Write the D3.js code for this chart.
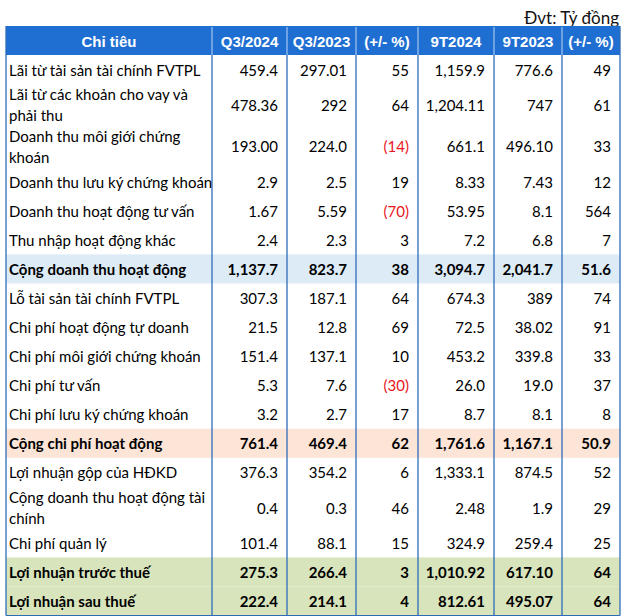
<!DOCTYPE html>
<html>
<head>
<meta charset="utf-8">
<script src="https://cdn.jsdelivr.net/npm/d3@7"></script>
<style>
  html, body { margin: 0; padding: 0; background: #fff; }
  svg { display: block; }
</style>
</head>
<body>
<svg id="chart" width="629" height="616"></svg>
<script>
// ---------- data ----------
const unitNote = "Đvt: Tỷ đồng";
const columns = ["Chỉ tiêu", "Q3/2024", "Q3/2023", "(+/- %)", "9T2024", "9T2023", "(+/- %)"];
const labels = [
  "Lãi từ tài sản tài chính FVTPL",
  "Lãi từ các khoản cho vay và\nphải thu",
  "Doanh thu môi giới chứng\nkhoán",
  "Doanh thu lưu ký chứng khoán",
  "Doanh thu hoạt động tư vấn",
  "Thu nhập hoạt động khác",
  "Cộng doanh thu hoạt động",
  "Lỗ tài sản tài chính FVTPL",
  "Chi phí hoạt động tự doanh",
  "Chi phí môi giới chứng khoán",
  "Chi phí tư vấn",
  "Chi phí lưu ký chứng khoán",
  "Cộng chi phí hoạt động",
  "Lợi nhuận gộp của HĐKD",
  "Cộng doanh thu hoạt động tài\nchính",
  "Chi phí quản lý",
  "Lợi nhuận trước thuế",
  "Lợi nhuận sau thuế"
];
const q3_2024 = ["459.4","478.36","193.00","2.9","1.67","2.4","1,137.7","307.3","21.5","151.4","5.3","3.2","761.4","376.3","0.4","101.4","275.3","222.4"];
const q3_2023 = ["297.01","292","224.0","2.5","5.59","2.3","823.7","187.1","12.8","137.1","7.6","2.7","469.4","354.2","0.3","88.1","266.4","214.1"];
const q3_chg  = ["55","64","(14)","19","(70)","3","38","64","69","10","(30)","17","62","6","46","15","3","4"];
const t9_2024 = ["1,159.9","1,204.11","661.1","8.33","53.95","7.2","3,094.7","674.3","72.5","453.2","26.0","8.7","1,761.6","1,333.1","2.48","324.9","1,010.92","812.61"];
const t9_2023 = ["776.6","747","496.10","7.43","8.1","6.8","2,041.7","389","38.02","339.8","19.0","8.1","1,167.1","874.5","1.9","259.4","617.10","495.07"];
const t9_chg  = ["49","61","33","12","564","7","51.6","74","91","33","37","8","50.9","52","29","25","64","64"];
const rowKind = ["","","","","","","blue","","","","","","peach","","","","green","green"];

// ---------- layout ----------
const svg = d3.select("#chart");
const edges = [6, 212, 287, 356, 418, 494, 562, 620];
const colIndex = d3.range(columns.length);
const xLeft = d3.scaleOrdinal().domain(colIndex).range(edges.slice(0, -1));
const xRight = d3.scaleOrdinal().domain(colIndex).range(edges.slice(1));

const headerTop = 26, headerH = 29;
const singleH = 29.05, doubleH = 41.6;
const rowH = labels.map(l => l.includes("\n") ? doubleH : singleH);
const rowTop = [];
let acc = headerTop + headerH;
rowH.forEach(h => { rowTop.push(acc); acc += h; });
const tableBottom = acc;

const fills = { blue: "#DDEBF7", peach: "#FCE4D6", green: "#D8E4BC" };
const borderColor = "#2E6CB8";
const headerBlue = "#1F6FD2";
const bodyFont = "Lato, 'Open Sans', sans-serif";

// unit note
svg.append("text")
  .attr("x", 619).attr("y", 17)
  .attr("text-anchor", "end")
  .attr("dominant-baseline", "central")
  .style("font-family", bodyFont)
  .style("font-size", "17px")
  .style("fill", "#111")
  .text(unitNote);

// header background
svg.append("rect")
  .attr("x", edges[0]).attr("y", headerTop)
  .attr("width", edges[edges.length - 1] - edges[0]).attr("height", headerH)
  .attr("fill", headerBlue);

// row fills
const rowsG = svg.append("g");
labels.forEach((l, i) => {
  if (rowKind[i]) {
    rowsG.append("rect")
      .attr("x", edges[0]).attr("y", rowTop[i])
      .attr("width", edges[edges.length - 1] - edges[0]).attr("height", rowH[i])
      .attr("fill", fills[rowKind[i]]);
  }
});

// header separators (light)
edges.slice(1, -1).forEach(x => {
  svg.append("line")
    .attr("x1", x).attr("x2", x)
    .attr("y1", headerTop + 1).attr("y2", headerTop + headerH)
    .attr("stroke", "#BFD6F2").attr("stroke-width", 1);
});

// header texts
colIndex.forEach(c => {
  svg.append("text")
    .attr("x", (xLeft(c) + xRight(c)) / 2)
    .attr("y", headerTop + headerH / 2 + 1)
    .attr("text-anchor", "middle")
    .attr("dominant-baseline", "central")
    .style("font-family", "'Liberation Sans', Arial, sans-serif")
    .style("font-weight", "bold")
    .style("font-size", "15px")
    .style("fill", "#fff")
    .text(columns[c]);
});

// body vertical borders
edges.forEach(x => {
  svg.append("line")
    .attr("x1", x).attr("x2", x)
    .attr("y1", (x === edges[0] || x === edges[edges.length - 1]) ? headerTop : headerTop + headerH)
    .attr("y2", tableBottom)
    .attr("stroke", borderColor).attr("stroke-width", 1.3);
});
// bottom border
svg.append("line")
  .attr("x1", edges[0]).attr("x2", edges[edges.length - 1])
  .attr("y1", tableBottom).attr("y2", tableBottom)
  .attr("stroke", borderColor).attr("stroke-width", 1.3);

// body text
const series = [q3_2024, q3_2023, q3_chg, t9_2024, t9_2023, t9_chg];
const lineGap = 21;
labels.forEach((label, i) => {
  const bold = rowKind[i] !== "";
  const cy = rowTop[i] + rowH[i] / 2;
  const lines = label.split("\n");
  lines.forEach((ln, k) => {
    svg.append("text")
      .attr("x", edges[0] + 3)
      .attr("y", cy + (k - (lines.length - 1) / 2) * lineGap)
      .attr("dominant-baseline", "central")
      .style("font-family", bodyFont)
      .style("font-size", "15px")
      .style("font-weight", bold ? "bold" : "normal")
      .style("fill", "#000")
      .text(ln);
  });
  series.forEach((s, j) => {
    const v = s[i];
    const neg = v.startsWith("(");
    svg.append("text")
      .attr("x", xRight(j + 1) - 9)
      .attr("y", cy)
      .attr("text-anchor", "end")
      .attr("dominant-baseline", "central")
      .style("font-family", bodyFont)
      .style("font-size", "15px")
      .style("font-weight", bold ? "bold" : "normal")
      .style("fill", neg ? "#E8151B" : "#000")
      .text(v);
  });
});
</script>
</body>
</html>
